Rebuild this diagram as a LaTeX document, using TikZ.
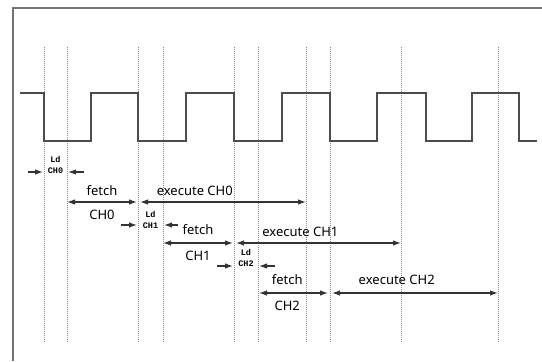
\documentclass[tikz,border=0pt]{standalone}
\usepackage{fontspec}
\setsansfont{Noto Sans}
\setmonofont{Liberation Mono}
\usetikzlibrary{arrows.meta,positioning}

\begin{document}
\begin{tikzpicture}[
    x=1pt,y=-1pt,>={Latex[length=8pt,width=5.5pt]},
    frame/.style={draw=black!55,line width=1.3pt},
    clk/.style={draw=black!70,line width=1.4pt},
    tmark/.style={draw=black!45,dash pattern=on 1pt off 1pt,line width=1pt},
    span/.style={draw=black!80,line width=1.2pt},
    lbl/.style={font=\sffamily\fontsize{13}{13}\selectfont,inner sep=0pt},
    ldtxt/.style={font=\ttfamily\bfseries\fontsize{8.5}{11}\selectfont,align=center,inner sep=0pt}]
    \useasboundingbox (0,0) rectangle (542,362);

    % outer frame
    \draw[frame] (542,8) -- (13,8) -- (13,361);

    % time marks
    \draw[tmark] (44,47) -- (44,343);
    \draw[tmark] (67,47) -- (67,343);
    \draw[tmark] (138,47) -- (138,343);
    \draw[tmark] (163,47) -- (163,343);
    \draw[tmark] (234,47) -- (234,343);
    \draw[tmark] (258,47) -- (258,343);
    \draw[tmark] (306,47) -- (306,343);
    \draw[tmark] (330,47) -- (330,343);
    \draw[tmark] (401,47) -- (401,343);
    \draw[tmark] (498,47) -- (498,343);

    % clock
    \draw[clk] (20,93) -- (44,93) -- (44,141) -- (91,141) -- (91,93)
        -- (138,93) -- (138,141) -- (186,141) -- (186,93)
        -- (234,93) -- (234,141) -- (282,141) -- (282,93)
        -- (330,93) -- (330,141) -- (377,141) -- (377,93)
        -- (426,93) -- (426,141) -- (472,141) -- (472,93)
        -- (519,93) -- (519,141) -- (537,141);

    % channel 0
    \coordinate (ld0a) at (28,172);
    \coordinate (ld0b) at (43,172);
    \coordinate (ld0c) at (84,172);
    \coordinate (ld0d) at (68,172);
    \node[ldtxt] (ld0) at (55.5,165) {Ld\\CH0};
    \draw[span,->] (ld0a) -- (ld0b);
    \draw[span,->] (ld0c) -- (ld0d);
    \coordinate (f0s) at (67,202);
    \coordinate (f0e) at (137,202);
    \coordinate (x0s) at (140,202);
    \coordinate (x0e) at (306,202);
    \draw[span,<->] (f0s) -- node[lbl,above=6pt] (fetch0) {fetch}
        node[lbl,below=7pt] (ch0) {CH0} (f0e);
    \draw[span,<->] (x0s) -- node[lbl,above=6pt,pos=0.33] (exec0) {execute CH0} (x0e);

    % channel 1
    \coordinate (ld1a) at (121,225);
    \coordinate (ld1b) at (137,225);
    \coordinate (ld1c) at (178,225);
    \coordinate (ld1d) at (164,225);
    \node[ldtxt] (ld1) at (150.5,220) {Ld\\CH1};
    \draw[span,->] (ld1a) -- (ld1b);
    \draw[span,->] (ld1c) -- (ld1d);
    \coordinate (f1s) at (163,243);
    \coordinate (f1e) at (233,243);
    \coordinate (x1s) at (236,243);
    \coordinate (x1e) at (401,243);
    \draw[span,<->] (f1s) -- node[lbl,above=8pt] (fetch1) {fetch}
        node[lbl,below=7pt] (ch1) {CH1} (f1e);
    \draw[span,<->] (x1s) -- node[lbl,above=6pt,pos=0.39] (exec1) {execute CH1} (x1e);

    % channel 2
    \coordinate (ld2a) at (217,266);
    \coordinate (ld2b) at (233,266);
    \coordinate (ld2c) at (275,266);
    \coordinate (ld2d) at (259,266);
    \node[ldtxt] (ld2) at (246,258) {Ld\\CH2};
    \draw[span,->] (ld2a) -- (ld2b);
    \draw[span,->] (ld2c) -- (ld2d);
    \coordinate (f2s) at (259,293);
    \coordinate (f2e) at (328,293);
    \coordinate (x2s) at (332,293);
    \coordinate (x2e) at (498,293);
    \draw[span,<->] (f2s) -- node[lbl,above=8pt,pos=0.41] (fetch2) {fetch}
        node[lbl,below=7pt,pos=0.41] (ch2) {CH2} (f2e);
    \draw[span,<->] (x2s) -- node[lbl,above=8pt,pos=0.39] (exec2) {execute CH2} (x2e);
\end{tikzpicture}
\end{document}
